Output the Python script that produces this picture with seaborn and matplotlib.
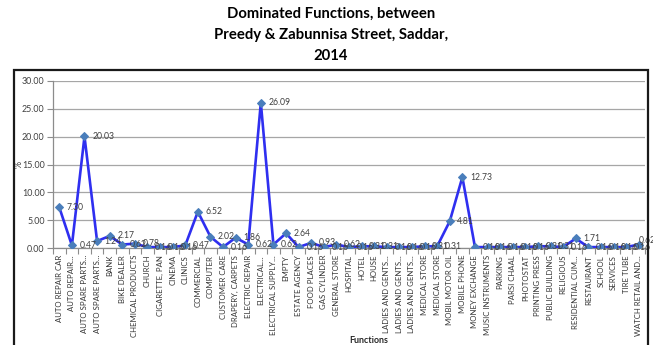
import matplotlib
matplotlib.use("Agg")
import matplotlib.pyplot as plt
import seaborn as sns
import pandas as pd
from matplotlib.patches import Rectangle
from matplotlib.ticker import FixedLocator, FormatStrFormatter

# Functions observed along the street (category order as surveyed)
functions = [
    "AUTO REPAIR CAR", "AUTO REPAIR...", "AUTO SPARE PARTS...", "AUTO SPARE PARTS...",
    "BANK", "BIKE DEALER", "CHEMICAL PRODUCTS", "CHURCH", "CIGARETTE, PAN", "CINEMA",
    "CLINICS", "COMMERCIAL", "COMPUTER", "CUSTOMER CARE", "DRAPERY, CARPETS",
    "ELECTRIC REPAIR", "ELECTRICAL...", "ELECTRICAL SUPPLY...", "EMPTY", "ESTATE AGENCY",
    "FOOD PLACES", "GAS CYLINDER", "GENERAL STORE", "HOSPITAL", "HOTEL", "HOUSE",
    "LADIES AND GENTS...", "LADIES AND GENTS...", "LADIES AND GENTS...",
    "MEDICAL STORE", "MEDICAL STORE", "MOBIL MOTOR OIL", "MOBILE PHONE",
    "MONEY EXCHANGE", "MUSIC INSTRUMENTS", "PARKING", "PARSI CHAAL", "PHOTOSTAT",
    "PRINTING PRESS", "PUBLIC BUILDING", "RELIGIOUS", "RESIDENTIAL CUM...",
    "RESTAURANT", "SCHOOL", "SERVICES", "TIRE TUBE", "WATCH RETAIL AND...",
]

# Share of each function (%)
shares = [
    7.30, 0.47, 20.03, 1.24, 2.17, 0.62, 0.78, 0.16, 0.16, 0.16,
    0.47, 6.52, 2.02, 0.16, 1.86, 0.62, 26.09, 0.62, 2.64, 0.16,
    0.93, 0.16, 0.62, 0.16, 0.31, 0.31, 0.16, 0.16, 0.16, 0.31,
    0.31, 4.81, 12.73, 0.16, 0.16, 0.16, 0.16, 0.16, 0.31, 0.31,
    0.16, 1.71, 0.16, 0.16, 0.16, 0.16, 0.62,
]

y_ticks = [0, 5, 10, 15, 20, 25, 30]

title = "Dominated Functions, between\nPreedy & Zabunnisa Street, Saddar,\n2014"

sns.set_theme(style="white")
plt.rcParams["font.family"] = ["Lato", "DejaVu Sans"]

df = pd.DataFrame({"pos": range(len(functions)), "share": shares})

W, H = 653, 345
fig = plt.figure(figsize=(W / 100, H / 100), dpi=100)
ax = fig.add_axes([53 / W, (H - 248) / H, 592 / W, 167 / H])

sns.lineplot(
    data=df, x="pos", y="share", ax=ax,
    color="#2F2FF0", linewidth=1.9,
    marker="D", markersize=4.3,
    markerfacecolor="#4A7EBB", markeredgecolor="#4A7EBB",
    zorder=3,
)

# value labels to the right of each point
last = len(shares) - 1
for i, v in enumerate(shares):
    if i == last:
        off = (0, 3)
    else:
        off = (5.5, 0)
    ax.annotate(f"{v:.2f}", (i, v), xytext=off, textcoords="offset points",
                ha="left", va="center", fontsize=6.2, color="#404040", zorder=4)

ax.set_xlim(-0.5, len(functions) - 0.5)
ax.set_ylim(0, 30)
ax.yaxis.set_major_locator(FixedLocator(y_ticks))
ax.yaxis.set_major_formatter(FormatStrFormatter("%.2f"))
ax.set_xticks(range(len(functions)))
ax.set_xticklabels(functions, rotation=90, fontsize=5.6, color="#333333")
ax.xaxis.set_minor_locator(FixedLocator([i + 0.5 for i in range(-1, len(functions))]))
ax.tick_params(axis="x", which="major", length=0, pad=5)
ax.tick_params(axis="x", which="minor", length=4, color="#8C8C8C", width=0.8, bottom=True)
ax.tick_params(axis="y", length=4, color="#8C8C8C", width=0.8, left=True,
               labelsize=6.4, labelcolor="#404040", pad=2)

ax.grid(axis="y", color="#A6A6A6", linewidth=0.9)
ax.set_axisbelow(True)
for s in ("top", "right"):
    ax.spines[s].set_visible(False)
for s in ("left", "bottom"):
    ax.spines[s].set_color("#8C8C8C")
    ax.spines[s].set_linewidth(0.9)

ax.set_xlabel("Functions", fontsize=6.4, fontweight="bold", color="#262626")
ax.xaxis.set_label_coords((369 - 53) / 592, (248 - 336) / 167)
ax.set_ylabel("%", fontsize=6.4, color="#404040")
ax.yaxis.set_label_coords((24 - 53) / 592, 0.5)

fig.text(331 / W, 1 - 7 / H, title, ha="center", va="top", fontsize=10.7,
         fontweight="bold", color="#000000", linespacing=1.62)

# chart border
fig.patches.append(Rectangle((14 / W, -0.05), (648 - 14) / W, 0.05 + (H - 70) / H,
                             transform=fig.transFigure, fill=False,
                             edgecolor="#1A1A1A", linewidth=1.6, clip_on=False))

fig.savefig("out.png", dpi=100)
